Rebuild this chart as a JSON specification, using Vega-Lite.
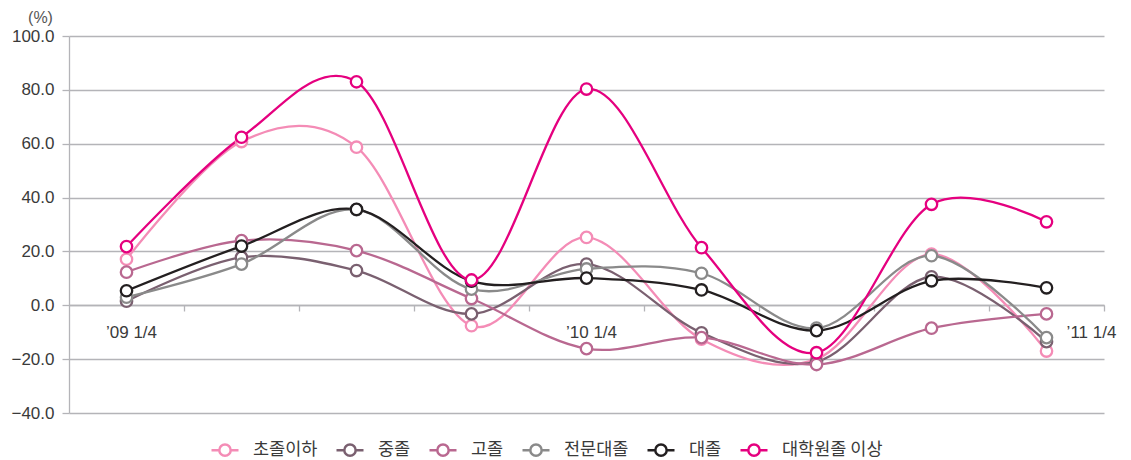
{
  "$schema": "https://vega.github.io/schema/vega-lite/v6.json",
  "autosize": "none",
  "width": 1035,
  "height": 377,
  "padding": {"left": 69, "top": 36, "right": 27, "bottom": 47},
  "background": "white",
  "config": {"view": {"stroke": null}},
  "data": {"values": [
    {"q": "’09 1/4", "s": "초졸이하", "v": 17.1},
    {"q": "’09 2/4", "s": "초졸이하", "v": 60.8},
    {"q": "’09 3/4", "s": "초졸이하", "v": 58.7},
    {"q": "’09 4/4", "s": "초졸이하", "v": -7.6},
    {"q": "’10 1/4", "s": "초졸이하", "v": 25.2},
    {"q": "’10 2/4", "s": "초졸이하", "v": -12.6},
    {"q": "’10 3/4", "s": "초졸이하", "v": -20.0},
    {"q": "’10 4/4", "s": "초졸이하", "v": 19.0},
    {"q": "’11 1/4", "s": "초졸이하", "v": -17.0},
    {"q": "’09 1/4", "s": "중졸", "v": 1.5},
    {"q": "’09 2/4", "s": "중졸", "v": 17.8},
    {"q": "’09 3/4", "s": "중졸", "v": 12.9},
    {"q": "’09 4/4", "s": "중졸", "v": -3.2},
    {"q": "’10 1/4", "s": "중졸", "v": 15.3},
    {"q": "’10 2/4", "s": "중졸", "v": -10.2},
    {"q": "’10 3/4", "s": "중졸", "v": -21.0},
    {"q": "’10 4/4", "s": "중졸", "v": 10.6},
    {"q": "’11 1/4", "s": "중졸", "v": -13.5},
    {"q": "’09 1/4", "s": "고졸", "v": 12.3},
    {"q": "’09 2/4", "s": "고졸", "v": 24.0},
    {"q": "’09 3/4", "s": "고졸", "v": 20.3},
    {"q": "’09 4/4", "s": "고졸", "v": 2.5},
    {"q": "’10 1/4", "s": "고졸", "v": -16.1},
    {"q": "’10 2/4", "s": "고졸", "v": -12.0},
    {"q": "’10 3/4", "s": "고졸", "v": -22.0},
    {"q": "’10 4/4", "s": "고졸", "v": -8.5},
    {"q": "’11 1/4", "s": "고졸", "v": -3.2},
    {"q": "’09 1/4", "s": "전문대졸", "v": 3.0},
    {"q": "’09 2/4", "s": "전문대졸", "v": 15.3},
    {"q": "’09 3/4", "s": "전문대졸", "v": 35.5},
    {"q": "’09 4/4", "s": "전문대졸", "v": 6.0},
    {"q": "’10 1/4", "s": "전문대졸", "v": 13.5},
    {"q": "’10 2/4", "s": "전문대졸", "v": 11.9},
    {"q": "’10 3/4", "s": "전문대졸", "v": -8.5},
    {"q": "’10 4/4", "s": "전문대졸", "v": 18.4},
    {"q": "’11 1/4", "s": "전문대졸", "v": -12.0},
    {"q": "’09 1/4", "s": "대졸", "v": 5.4},
    {"q": "’09 2/4", "s": "대졸", "v": 22.0},
    {"q": "’09 3/4", "s": "대졸", "v": 35.6},
    {"q": "’09 4/4", "s": "대졸", "v": 9.0},
    {"q": "’10 1/4", "s": "대졸", "v": 10.1},
    {"q": "’10 2/4", "s": "대졸", "v": 5.7},
    {"q": "’10 3/4", "s": "대졸", "v": -9.4},
    {"q": "’10 4/4", "s": "대졸", "v": 9.1},
    {"q": "’11 1/4", "s": "대졸", "v": 6.5},
    {"q": "’09 1/4", "s": "대학원졸 이상", "v": 21.8},
    {"q": "’09 2/4", "s": "대학원졸 이상", "v": 62.4},
    {"q": "’09 3/4", "s": "대학원졸 이상", "v": 83.0},
    {"q": "’09 4/4", "s": "대학원졸 이상", "v": 9.4},
    {"q": "’10 1/4", "s": "대학원졸 이상", "v": 80.3},
    {"q": "’10 2/4", "s": "대학원졸 이상", "v": 21.4},
    {"q": "’10 3/4", "s": "대학원졸 이상", "v": -17.6},
    {"q": "’10 4/4", "s": "대학원졸 이상", "v": 37.5},
    {"q": "’11 1/4", "s": "대학원졸 이상", "v": 31.0}
  ]},
  "layer": [
    {
      "mark": {"type": "line", "interpolate": "cardinal", "strokeWidth": 2.3},
      "encoding": {
        "x": {
          "field": "q", "type": "ordinal", "sort": null,
          "scale": {"type": "point", "padding": 0.5},
          "axis": {
            "title": null, "orient": "bottom", "offset": -108,
            "domainColor": "#b4b4b8", "domainWidth": 1.3,
            "tickColor": "#b4b4b8", "tickWidth": 1.3, "tickSize": 6, "tickOffset": 57.5,
            "labelAngle": 0, "labelFont": "Liberation Sans", "labelFontSize": 17, "labelColor": "#3a3a3a",
            "labelPadding": 13,
            "labelOffset": {"condition": {"test": "datum.value === '’11 1/4'", "value": -13}, "value": -53},
            "labelExpr": "indexof(datum.value, '1/4') >= 0 ? datum.value : ''",
            "grid": false
          }
        },
        "y": {
          "field": "v", "type": "quantitative",
          "scale": {"domain": [-40, 100], "nice": false, "zero": false},
          "axis": {
            "values": [-40, -20, 0, 20, 40, 60, 80, 100], "format": ".1f",
            "title": "(%)", "titleAngle": 0, "titleX": -29, "titleY": -19, "titleAlign": "center", "titleBaseline": "middle",
            "titleFont": "Liberation Sans", "titleFontSize": 16, "titleFontWeight": "normal", "titleColor": "#555555",
            "domainColor": "#b4b4b8", "domainWidth": 1.3,
            "tickColor": "#b4b4b8", "tickWidth": 1.3, "tickSize": 7,
            "gridColor": "#b4b4b8", "gridWidth": 1.3,
            "labelFont": "Liberation Sans", "labelFontSize": 17, "labelColor": "#3a3a3a", "labelPadding": 8
          }
        },
        "color": {
          "field": "s", "type": "nominal",
          "scale": {
            "domain": ["초졸이하", "중졸", "고졸", "전문대졸", "대졸", "대학원졸 이상"],
            "range": ["#f48cb6", "#7a6070", "#b96890", "#8a8a8a", "#231f20", "#e5007f"]
          },
          "legend": {
            "title": null, "orient": "none", "legendX": 141, "legendY": 399, "direction": "horizontal",
            "columns": 6, "columnPadding": 13,
            "symbolType": "M-1,0L-0.42,0M0.42,0L1,0M-0.42,0A0.42,0.42,0,1,1,0.42,0A0.42,0.42,0,1,1,-0.42,0Z",
            "symbolSize": 729, "symbolStrokeWidth": 2.5, "symbolFillColor": "white",
            "labelFont": "Noto Sans CJK KR", "labelFontSize": 17.5, "labelColor": "#3a3a3a", "labelOffset": 13
          }
        }
      }
    },
    {
      "mark": {"type": "point", "shape": "circle", "filled": false, "fill": "white", "opacity": 1, "size": 130, "strokeWidth": 2.3},
      "encoding": {
        "x": {"field": "q", "type": "ordinal", "sort": null},
        "y": {"field": "v", "type": "quantitative"},
        "color": {"field": "s", "type": "nominal"}
      }
    }
  ]
}
